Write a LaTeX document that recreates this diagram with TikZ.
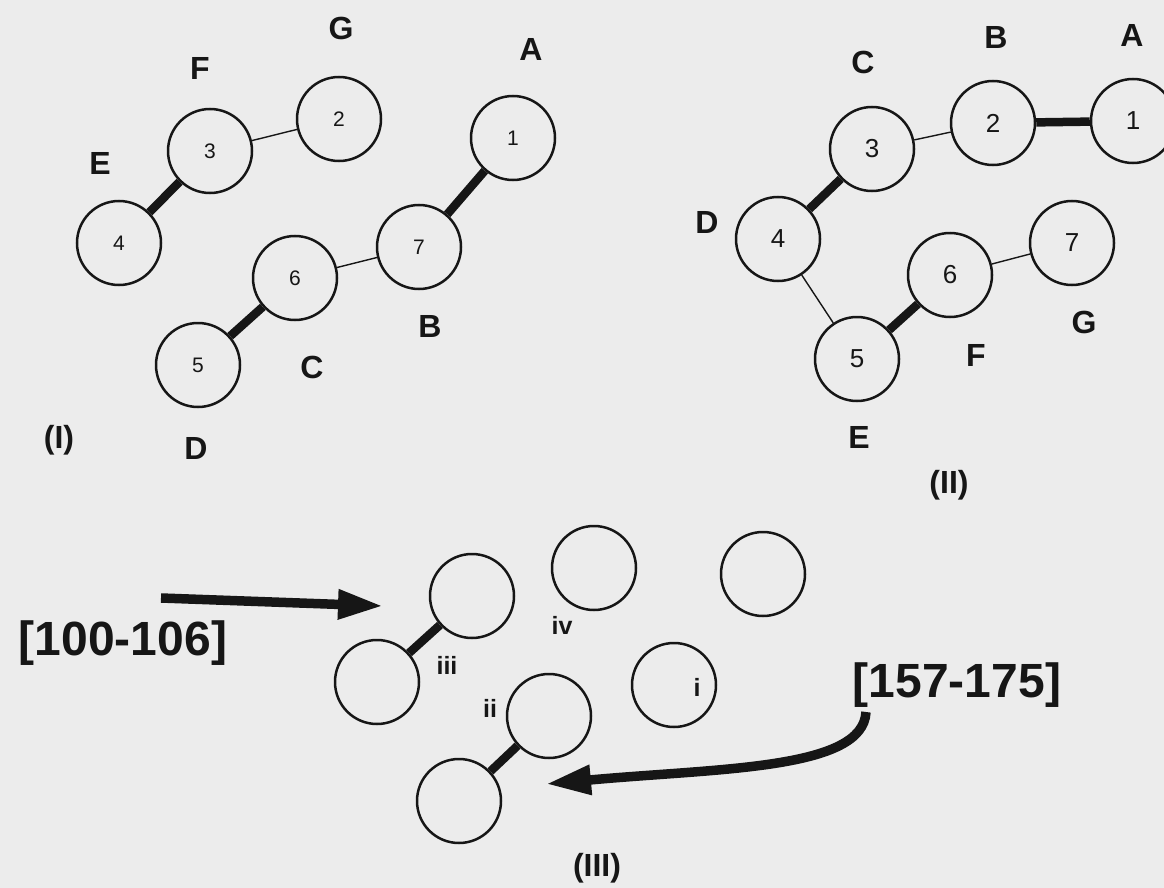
\documentclass[tikz,border=0pt]{standalone}
\usepackage{fontspec}
\setmainfont{Liberation Sans}
\usetikzlibrary{arrows.meta}
\definecolor{paper}{RGB}{236,236,236}
\definecolor{ink}{RGB}{22,22,22}
\tikzset{
  atom/.style={circle, draw=ink, line width=2.5pt, minimum size=84pt, inner sep=0pt, text=ink},
  nsmall/.style={font=\fontsize{21}{25}\selectfont},
  nlarge/.style={font=\fontsize{26}{30}\selectfont},
  lbl/.style={text=ink, inner sep=0pt, font=\fontsize{32}{38}\selectfont\bfseries},
  romanlbl/.style={text=ink, inner sep=0pt, font=\fontsize{32}{38}\selectfont\bfseries},
  sublbl/.style={text=ink, inner sep=0pt, font=\fontsize{25}{30}\selectfont\bfseries},
  rangetxt/.style={text=ink, inner sep=0pt, font=\fontsize{48}{56}\selectfont\bfseries},
  sbond/.style={draw=ink, line width=1.4pt},
  wbond/.style={draw=ink, line width=8.5pt},
  fatarrow/.style={draw=ink, line width=9.5pt, -{Triangle[length=45pt,width=28pt]}},
}
\begin{document}
\begin{tikzpicture}[x=1pt, y=-1pt]
\useasboundingbox (0,0) rectangle (1164,888);
\fill[paper] (0,0) rectangle (1164,888);

% ---- panel (I) ----
\node[atom, nsmall] (a1) at (513,138) {1};
\node[atom, nsmall] (a2) at (339,119) {2};
\node[atom, nsmall] (a3) at (210,151) {3};
\node[atom, nsmall] (a4) at (119,243) {4};
\node[atom, nsmall] (a5) at (198,365) {5};
\node[atom, nsmall] (a6) at (295,278) {6};
\node[atom, nsmall] (a7) at (419,247) {7};
\draw[sbond] (a3) -- (a2);
\draw[wbond] (a3) -- (a4);
\draw[sbond] (a6) -- (a7);
\draw[wbond] (a6) -- (a5);
\draw[wbond] (a7) -- (a1);

\node[lbl] (ag) at (341,28) {G};
\node[lbl] (aa) at (531,49) {A};
\node[lbl] (af) at (200,68) {F};
\node[lbl] (ae) at (100,163) {E};
\node[lbl] (ab) at (430,326) {B};
\node[lbl] (ac) at (312,367) {C};
\node[lbl] (ad) at (196,448) {D};
\node[romanlbl] (pI) at (59,440) {(I)};

% ---- panel (II) ----
\node[atom, nlarge] (b1) at (1133,121) {1};
\node[atom, nlarge] (b2) at (993,123) {2};
\node[atom, nlarge] (b3) at (872,149) {3};
\node[atom, nlarge] (b4) at (778,239) {4};
\node[atom, nlarge] (b5) at (857,359) {5};
\node[atom, nlarge] (b6) at (950,275) {6};
\node[atom, nlarge] (b7) at (1072,243) {7};
\draw[sbond] (b3) -- (b2);
\draw[wbond] (b2) -- (b1);
\draw[wbond] (b3) -- (b4);
\draw[sbond] (b4) -- (b5);
\draw[wbond] (b5) -- (b6);
\draw[sbond] (b6) -- (b7);

\node[lbl] (bc) at (863,62) {C};
\node[lbl] (bb) at (996,37) {B};
\node[lbl] (ba) at (1132,35) {A};
\node[lbl] (bd) at (707,222) {D};
\node[lbl] (bg) at (1084,322) {G};
\node[lbl] (bf) at (976,355) {F};
\node[lbl] (be) at (859,437) {E};
\node[romanlbl] (pII) at (949,485) {(II)};

% ---- panel (III) ----
\node[atom] (c3u) at (472,596) {};
\node[atom] (c3l) at (377,682) {};
\node[atom] (c4) at (594,568) {};
\node[atom] (cx) at (763,574) {};
\node[atom] (c1) at (674,685) {};
\node[atom] (c2u) at (549,716) {};
\node[atom] (c2l) at (459,801) {};
\draw[wbond] (c3u) -- (c3l);
\draw[wbond] (c2u) -- (c2l);

\node[sublbl] (tiii) at (447,665) {iii};
\node[sublbl] (tiv) at (562,625) {iv};
\node[sublbl] (tii) at (490,708) {ii};
\node[sublbl] (ti) at (697,687) {i};
\node[romanlbl] (pIII) at (597,868) {(III)};

\node[rangetxt] (r1) at (123,643) {[100-106]};
\node[rangetxt] (r2) at (957,685) {[157-175]};

\coordinate (r1s) at (161,598);
\coordinate (r1e) at (383,606);
\draw[fatarrow] (r1s) -- (r1e);

\coordinate (r2s) at (866,712);
\coordinate (r2e) at (546,784);
\draw[fatarrow] (r2s) .. controls (863,770) and (720,768) .. (r2e);
\end{tikzpicture}
\end{document}
